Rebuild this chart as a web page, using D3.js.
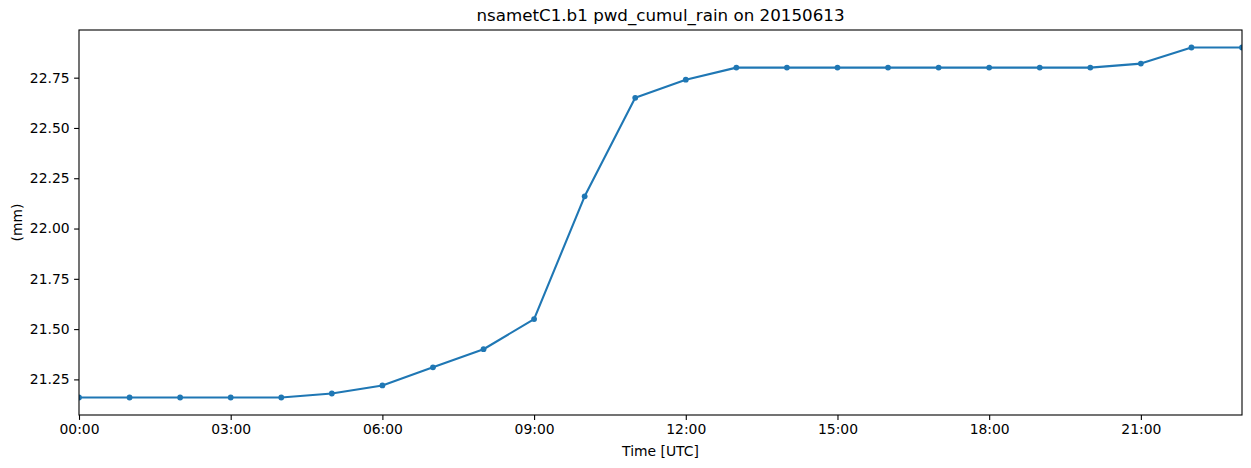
<!DOCTYPE html>
<html lang="en">
<head>
<meta charset="UTF-8">
<title>nsametC1.b1 pwd_cumul_rain on 20150613</title>
<script src="https://d3js.org/d3.v7.min.js"></script>
<style>
  body { margin: 0; background: #fff; }
  svg text { font-family: "DejaVu Sans", sans-serif; fill: #000; }
</style>
</head>
<body>
<div id="chart"></div>
<script>
// hourly data (hours since 00:00 UTC)
const hours = d3.range(0, 24);
const rain = [21.16, 21.16, 21.16, 21.16, 21.16, 21.18, 21.22, 21.31, 21.40, 21.55,
              22.16, 22.65, 22.74, 22.80, 22.80, 22.80, 22.80, 22.80, 22.80, 22.80,
              22.80, 22.82, 22.90, 22.90];
const xTicks = [0, 3, 6, 9, 12, 15, 18, 21];
const yTicks = [21.25, 21.50, 21.75, 22.00, 22.25, 22.50, 22.75];

const width = 1251, height = 468;
const margin = { top: 30, right: 9, bottom: 53, left: 79 };

const svg = d3.select("#chart").append("svg")
    .attr("width", width)
    .attr("height", height);

const x = d3.scaleLinear()
    .domain([0, 23])
    .range([margin.left, width - margin.right]);

// matplotlib style 5% margins
const lo = d3.min(rain), hi = d3.max(rain), pad = (hi - lo) * 0.05;
const y = d3.scaleLinear()
    .domain([lo - pad, hi + pad])
    .range([height - margin.bottom, margin.top]);

const fmtHour = h => String(h).padStart(2, "0") + ":00";

// x axis
const gx = svg.append("g")
    .attr("transform", `translate(0,${height - margin.bottom})`)
    .call(d3.axisBottom(x).tickValues(xTicks).tickFormat(fmtHour).tickSize(4.9).tickPadding(4.5));
gx.select(".domain").remove();
gx.selectAll("line").attr("stroke", "#000").attr("stroke-width", 1.1);
gx.selectAll("text").attr("font-size", 13.9);

// y axis
const gy = svg.append("g")
    .attr("transform", `translate(${margin.left},0)`)
    .call(d3.axisLeft(y).tickValues(yTicks).tickFormat(d3.format(".2f")).tickSize(4.9).tickPadding(4.5));
gy.select(".domain").remove();
gy.selectAll("line").attr("stroke", "#000").attr("stroke-width", 1.1);
gy.selectAll("text").attr("font-size", 13.9);

// line + markers, clipped to axes
svg.append("clipPath").attr("id", "clip")
  .append("rect")
    .attr("x", margin.left).attr("y", margin.top)
    .attr("width", width - margin.left - margin.right)
    .attr("height", height - margin.top - margin.bottom);

const plot = svg.append("g").attr("clip-path", "url(#clip)");

const line = d3.line()
    .x((d, i) => x(hours[i]))
    .y(d => y(d));

plot.append("path")
    .datum(rain)
    .attr("fill", "none")
    .attr("stroke", "#1f77b4")
    .attr("stroke-width", 2.1)
    .attr("stroke-linejoin", "round")
    .attr("d", line);

plot.selectAll("circle")
    .data(rain)
    .join("circle")
    .attr("cx", (d, i) => x(hours[i]))
    .attr("cy", d => y(d))
    .attr("r", 2.9)
    .attr("fill", "#1f77b4");

// frame
svg.append("rect")
    .attr("x", margin.left).attr("y", margin.top)
    .attr("width", width - margin.left - margin.right)
    .attr("height", height - margin.top - margin.bottom)
    .attr("fill", "none")
    .attr("stroke", "#000")
    .attr("stroke-width", 1.1);

// labels
svg.append("text")
    .attr("x", (margin.left + width - margin.right) / 2)
    .attr("y", 21)
    .attr("text-anchor", "middle")
    .attr("font-size", 16.7)
    .text("nsametC1.b1 pwd_cumul_rain on 20150613");

svg.append("text")
    .attr("x", (margin.left + width - margin.right) / 2)
    .attr("y", 456)
    .attr("text-anchor", "middle")
    .attr("font-size", 13.9)
    .text("Time [UTC]");

svg.append("text")
    .attr("transform", `translate(22,${(margin.top + height - margin.bottom) / 2}) rotate(-90)`)
    .attr("text-anchor", "middle")
    .attr("font-size", 13.9)
    .text("(mm)");
</script>
</body>
</html>
